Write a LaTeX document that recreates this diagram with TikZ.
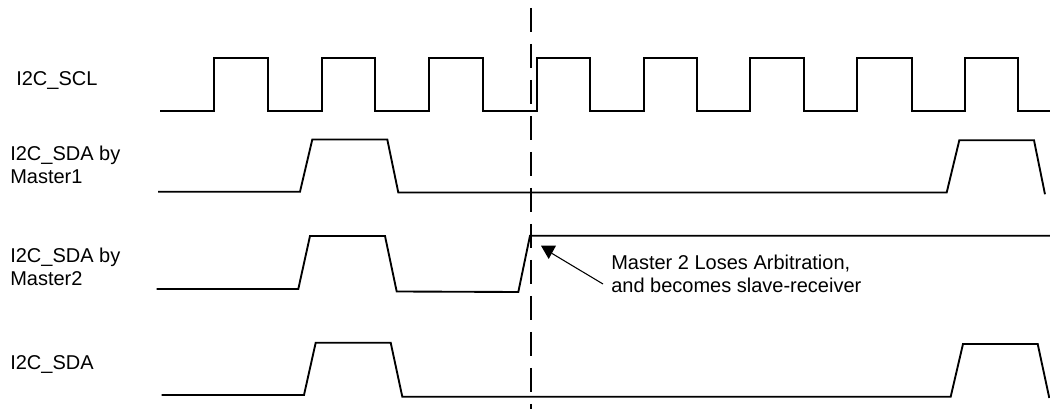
\documentclass[tikz,border=0pt]{standalone}
\usepackage{fontspec}
\setmainfont{Liberation Sans}
\begin{document}
\begin{tikzpicture}[x=0.75pt,y=-0.75pt,
  lbl/.style={anchor=base west,inner sep=0pt,align=left,font=\fontsize{15}{17.25}\selectfont},
  sig/.style={line width=1.4pt,line join=miter},
  marker/.style={line width=1.5pt,dash pattern=on 18pt off 9pt},
  pointer/.style={line width=0.8pt}]
\useasboundingbox (0,0) rectangle (1050,409);
% labels (base anchor = baseline of the last line)
\node[lbl] (scl) at (16,86) {I2C\_SCL};
\node[lbl] (m1) at (10,184) {I2C\_SDA by\\Master1};
\node[lbl] (m2) at (10,286) {I2C\_SDA by\\Master2};
\node[lbl] (sda) at (10,370) {I2C\_SDA};
% SCL
\draw[sig] (160,110.7) -| (214,58) -| (267.7,110.7) -| (321.7,58) -| (375,110.7)
  -| (429,58) -| (483,110.7) -| (536.7,58) -| (590,110.7) -| (644,58) -| (696.7,110.7)
  -| (750,58) -| (804,110.7) -| (856.7,58) -| (911.7,110.7) -| (965,58) -| (1018.3,110.7)
  -- (1050,110.7);
% SDA by Master1
\draw[sig] (158,191.7) -- (300,191.7) -- (312.3,139.5) -- (387.3,139.5) -- (398.3,192.5)
  -- (946.7,192.5) -- (959.3,140.3) -- (1034,140.3) -- (1045,194.3);
% SDA by Master2
\draw[sig] (156.7,289) -- (298.3,289) -- (310,236) -- (385,236) -- (396.7,291.5)
  -- (518.3,292) -- (530,235.7) -- (1050,235.7);
% SDA
\draw[sig] (161.7,395) -- (304,395) -- (315.7,342.7) -- (390.7,342.7) -- (402.3,396.7)
  -- (950.7,396.7) -- (963,344) -- (1037.7,344) -- (1049.3,398);
% arbitration marker
\coordinate (dtop) at (530.7,8);
\coordinate (dbot) at (530.7,409);
\draw[marker] (dtop) -- (dbot);
% annotation
\node[lbl] (note) at (611,293) {Master 2 Loses Arbitration,\\and becomes slave-receiver};
\coordinate (tail) at (603,284);
\coordinate (tip) at (551.7,253.3);
\draw[pointer] (tail) -- (tip);
\fill (541,245.7) -- (556,245.7) -- (548.7,259) -- cycle;
\end{tikzpicture}
\end{document}
